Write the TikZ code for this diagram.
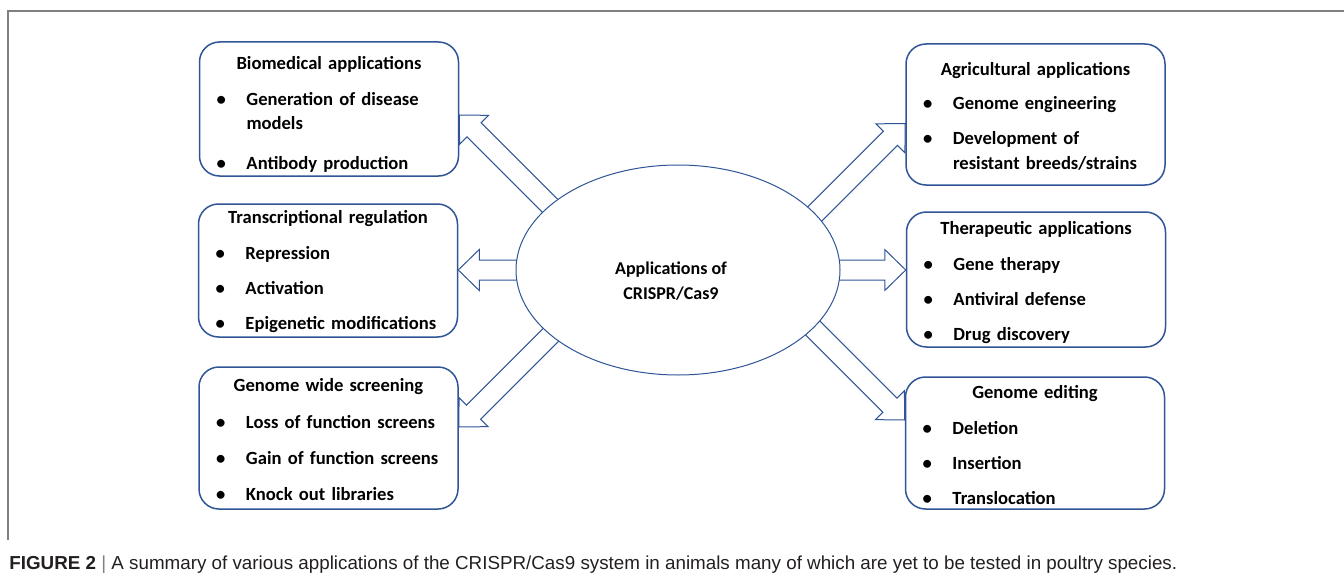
\documentclass[tikz,border=0pt]{standalone}
\usepackage{fontspec}
\setmainfont{Carlito}
\newfontfamily\capfont{Liberation Sans}
\usetikzlibrary{calc,positioning,shapes.geometric}

\definecolor{appblue}{RGB}{47,85,151}
\definecolor{framegray}{RGB}{128,128,128}
\definecolor{captext}{RGB}{35,31,32}

\pgfdeclarelayer{background}
\pgfsetlayers{background,main}

\newcommand{\hdr}[1]{\makebox[\hsize][c]{#1}}
\newcommand{\itm}[1]{\makebox[15pt][l]{\textbullet}#1}
\newcommand{\cont}[1]{\hspace*{15pt}#1}

% hollow block arrow, tail to tip
\newcommand{\blockarrow}[2]{%
  \draw[arrowline] ($(#1)!5pt!90:(#2)$)
    -- ($(#2)!10.5pt!(#1)!5pt!90:(#2)$)
    -- ($(#2)!10.5pt!(#1)!10.25pt!90:(#2)$)
    -- (#2)
    -- ($(#2)!10.5pt!(#1)!10.25pt!-90:(#2)$)
    -- ($(#2)!10.5pt!(#1)!5pt!-90:(#2)$)
    -- ($(#1)!5pt!-90:(#2)$) -- cycle;}

\tikzset{
  appbox/.style={rectangle, draw=appblue, line width=0.75pt, rounded corners=10pt,
    fill=white, minimum width=129.5pt, inner sep=0pt},
  listtext/.style={text width=112.5pt, align=left, inner sep=0pt,
    font=\fontsize{9.3}{12}\selectfont\bfseries},
  arrowline/.style={draw=appblue, line width=0.5pt, fill=white, line join=miter},
  appellipse/.style={ellipse, draw=appblue, line width=0.5pt, fill=white, inner sep=0pt},
}

\begin{document}
\begin{tikzpicture}[x=0.5pt, y=-0.5pt]
\useasboundingbox (0,0) rectangle (1344,583);

% frame
\draw[framegray, line width=0.75pt] (1344,11) -- (8,11) -- (8,540);

% centre
\node[appellipse, minimum width=162pt, minimum height=105pt] (ell) at (678,270) {};
\node[align=center, inner sep=0pt, font=\fontsize{9}{12.5}\selectfont\bfseries]
  (ctitle) at ($(ell.center)+(-7,11)$) {Applications of\\CRISPR/Cas9};

% boxes
\node[appbox, minimum height=67pt] (bio) at (329,109) {};
\node[appbox, minimum height=66.5pt] (trans) at (328,270.5) {};
\node[appbox, minimum height=71pt] (gws) at (328.5,438) {};
\node[appbox, minimum height=70.5pt] (agri) at (1035.5,114.5) {};
\node[appbox, minimum height=67.5pt] (thera) at (1036,279.5) {};
\node[appbox, minimum height=66pt] (edit) at (1035,443) {};

\node[listtext, below=7.5pt of bio.north] (bioText) {\hdr{Biomedical applications}\\[6pt]
  \itm{Generation of disease}\\ \cont{models}\\[8pt]
  \itm{Antibody production}};
\node[listtext, below=3.5pt of trans.north] (transText) {\hdr{Transcriptional regulation}\\[6pt]
  \itm{Repression}\\[5.5pt]
  \itm{Activation}\\[5.5pt]
  \itm{Epigenetic modifications}};
\node[listtext, below=6pt of gws.north] (gwsText) {\hdr{Genome wide screening}\\[6.5pt]
  \itm{Loss of function screens}\\[6pt]
  \itm{Gain of function screens}\\[6pt]
  \itm{Knock out libraries}};
\node[listtext, below=9.5pt of agri.north] (agriText) {\hdr{Agricultural applications}\\[5pt]
  \itm{Genome engineering}\\[5.5pt]
  \itm{Development of}\\[0.5pt] \cont{resistant breeds/strains}};
\node[listtext, below=5pt of thera.north] (theraText) {\hdr{Therapeutic applications}\\[6pt]
  \itm{Gene therapy}\\[5.5pt]
  \itm{Antiviral defense}\\[5.5pt]
  \itm{Drug discovery}};
\node[listtext, below=4.5pt of edit.north] (editText) {\hdr{Genome editing}\\[6pt]
  \itm{Deletion}\\[5.5pt]
  \itm{Insertion}\\[5.5pt]
  \itm{Translocation}};

% arrow ends
\coordinate (tipBio) at ($(bio.east)+(0,6)$);
\coordinate (tailBio) at ($(tipBio)+(130,130)$);
\coordinate (tipTrans) at (ell.center -| trans.east);
\coordinate (tipGws) at ($(gws.east)+(0,-11)$);
\coordinate (tailGws) at ($(tipGws)+(130,-130)$);
\coordinate (tipAgri) at ($(agri.west)+(0,9)$);
\coordinate (tailAgri) at ($(tipAgri)+(-130,130)$);
\coordinate (tipThera) at (ell.center -| thera.west);
\coordinate (tipEdit) at ($(edit.west)+(0,-23)$);
\coordinate (tailEdit) at ($(tipEdit)+(-130,-130)$);

\begin{pgfonlayer}{background}
\blockarrow{tailBio}{tipBio}
\blockarrow{ell.center}{tipTrans}
\blockarrow{tailGws}{tipGws}
\blockarrow{tailAgri}{tipAgri}
\blockarrow{ell.center}{tipThera}
\blockarrow{tailEdit}{tipEdit}
\end{pgfonlayer}

% caption
\node[anchor=base west, inner sep=0pt, text=captext, font=\capfont\fontsize{9.4}{11}\selectfont]
  (cap) at (9,569) {\textbf{FIGURE 2} {\color{gray}|} A summary of various applications of the CRISPR/Cas9 system in animals many of which are yet to be tested in poultry species.};
\end{tikzpicture}
\end{document}
